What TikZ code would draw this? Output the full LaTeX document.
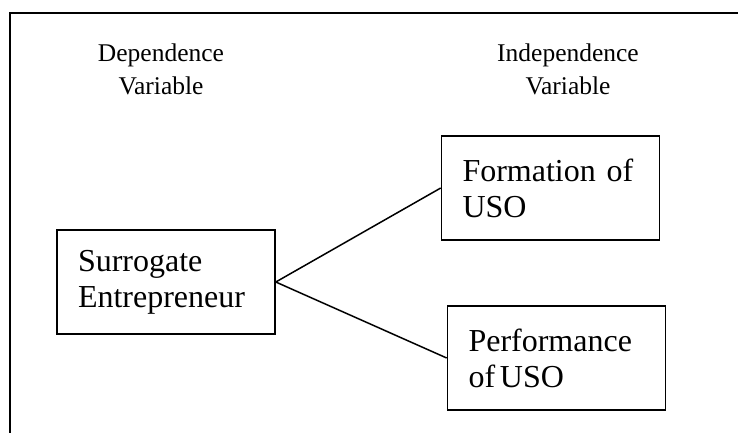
\documentclass[tikz,border=0pt]{standalone}
\usepackage{fontspec}
\setmainfont{Liberation Serif}

\begin{document}
\begin{tikzpicture}[x=1pt, y=-1pt,
    varbox/.style={draw, line width=1.6pt, text width=176pt, inner xsep=21pt, inner ysep=0pt,
                   minimum height=104pt, align=left, font=\fontsize{32}{36}\selectfont},
    heading/.style={align=center, inner sep=0pt, font=\fontsize{25.5}{33.5}\selectfont}]
    \useasboundingbox (0,0) rectangle (738,432);
    \clip (0,0) rectangle (738,432);

    % Outer frame, runs off the right and bottom edges
    \draw[line width=2.2pt] (10,13) rectangle (760,460);

    % Column headings (base = last line)
    \node[heading, anchor=base] (dephead) at (161,94.5) {Dependence\\Variable};
    \node[heading, anchor=base] (indhead) at (568,94.5) {Independence\\Variable};

    % Variables
    \node[varbox] (surr) at (166,282) {Surrogate\\Entrepreneur};
    \node[varbox] (form) at (550.5,188) {Formation of\\USO};
    \node[varbox] (perf) at (556.5,358) {Performance\\of\hspace{0.15em}USO};

    % Links
    \draw[line width=1.5pt] (surr.east) -- (form.west);
    \draw[line width=1.5pt] (surr.east) -- (perf.west);
\end{tikzpicture}
\end{document}
